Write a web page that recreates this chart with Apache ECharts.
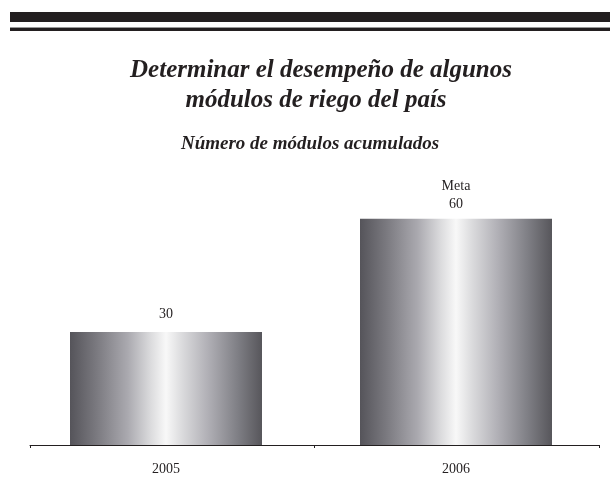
<!DOCTYPE html>
<html>
<head>
<meta charset="utf-8">
<script src="https://cdn.jsdelivr.net/npm/echarts@6/dist/echarts.min.js"></script>
<style>
  html, body { margin: 0; padding: 0; background: #fff; }
  #chart { width: 610px; height: 494px; }
</style>
</head>
<body>
<div id="chart"></div>
<script>
// Accumulated irrigation modules evaluated per year
const categories = ['2005', '2006'];
const modulos = [30, 60];
const etiquetas = ['', 'Meta'];

const serif = '"Liberation Serif", "Times New Roman", serif';
const ink = '#231f20';

const barFill = new echarts.graphic.LinearGradient(0, 0, 1, 0, [
  { offset: 0.00, color: '#55545a' },
  { offset: 0.14, color: '#7b7a80' },
  { offset: 0.30, color: '#aaa9af' },
  { offset: 0.42, color: '#dbdbdd' },
  { offset: 0.50, color: '#f8f8f8' },
  { offset: 0.58, color: '#dcdcde' },
  { offset: 0.72, color: '#b0afb5' },
  { offset: 0.87, color: '#808086' },
  { offset: 1.00, color: '#57565b' }
]);

// two-line labels sit a little closer to their bar
const barData = modulos.map((v, i) => ({
  value: v,
  label: { distance: etiquetas[i] ? 5 : 9 }
}));

const headStyle = { fontFamily: serif, fontSize: 25, fontWeight: 'bold', fontStyle: 'italic', color: ink };

const chart = echarts.init(document.getElementById('chart'), null, { renderer: 'canvas' });

chart.setOption({
  animation: false,
  backgroundColor: '#ffffff',
  title: [
    { text: 'Determinar el desempeño de algunos', left: 316, top: 53, textAlign: 'center', textStyle: headStyle },
    { text: 'módulos de riego del país', left: 311, top: 83, textAlign: 'center', textStyle: headStyle },
    {
      text: 'Número de módulos acumulados',
      left: 305, top: 130, textAlign: 'center',
      textStyle: { fontFamily: serif, fontSize: 19, fontWeight: 'bold', fontStyle: 'italic', color: ink }
    }
  ],
  graphic: [
    { type: 'rect', shape: { x: 10, y: 12, width: 600, height: 10 }, style: { fill: ink } },
    { type: 'rect', shape: { x: 10, y: 27, width: 600, height: 1 }, style: { fill: '#9a9a9a' } },
    { type: 'rect', shape: { x: 10, y: 28, width: 600, height: 3 }, style: { fill: ink } }
  ],
  grid: [
    { left: 21, right: 9, top: 68, bottom: 49 },
    { left: 30, right: 11, top: 68, bottom: 49 }
  ],
  xAxis: [
    {
      type: 'category', gridIndex: 0, data: categories,
      axisLine: { show: false }, axisTick: { show: false },
      axisLabel: { fontFamily: serif, fontSize: 14, color: ink, margin: 17 }
    },
    {
      type: 'category', gridIndex: 1, data: categories,
      axisLine: { show: true, lineStyle: { color: ink, width: 1 } },
      axisTick: { show: true, length: 3, lineStyle: { color: ink } },
      axisLabel: { show: false }
    }
  ],
  yAxis: [
    { type: 'value', gridIndex: 0, min: 0, max: 100, show: false },
    { type: 'value', gridIndex: 1, min: 0, max: 100, show: false }
  ],
  series: [
    {
      type: 'bar', xAxisIndex: 0, yAxisIndex: 0,
      data: barData, barWidth: 192,
      itemStyle: { color: barFill },
      label: {
        show: true, position: 'top', distance: 9,
        fontFamily: serif, fontSize: 14, color: ink, lineHeight: 18,
        formatter: p => (etiquetas[p.dataIndex] ? etiquetas[p.dataIndex] + '\n' : '') + p.value
      }
    }
  ]
});
</script>
</body>
</html>
